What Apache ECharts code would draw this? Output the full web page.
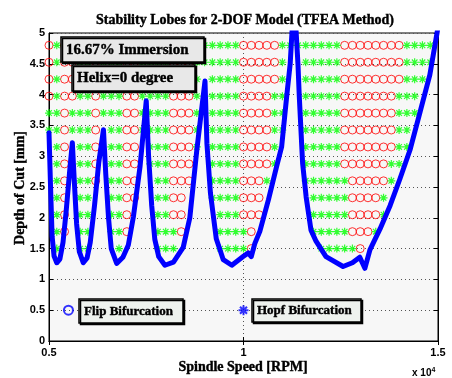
<!DOCTYPE html>
<html><head><meta charset="utf-8">
<script src="https://cdn.jsdelivr.net/npm/echarts@6/dist/echarts.min.js"></script>
<style>html,body{margin:0;padding:0;background:#fff}#c{width:452px;height:378px}</style>
</head><body><div id="c"></div>
<script>
// Grid of simulated cutting conditions (spindle speed columns, depth rows)
const spindleSpeeds = [5000,5200,5400,5600,5800,6000,6200,6400,6600,6800,7000,7200,7400,7600,7800,8000,8200,8400,8600,8800,9000,9200,9400,9600,9800,10000,10200,10400,10600,10800,11000,11200,11400,11600,11800,12000,12200,12400,12600,12800,13000,13200,13400,13600,13800,14000,14200,14400,14600,14800,15000];
const depthRows = [4.8, 4.525, 4.25, 3.975, 3.7, 3.425, 3.15, 2.875, 2.6, 2.325, 2.05, 1.775, 1.5];
// o = flip bifurcation, * = Hopf bifurcation, . = stable (no mark)
const bifurcationRows = [
  "o*oo**o***oo****ooo******ooooo********oooooooo****.",
  "o*oo**o***oo****ooo******ooooo*..*****oooooooo****.",
  "o*oo**o***oo****ooo*.****ooooo*..*****oooooooo***..",
  "o*oo**o***oo****ooo*.****oooo**..*****ooooooo***...",
  "**o***o***oo****ooo*.****oooo**..*****ooooooo***...",
  "**o***o.**oo****ooo*.****oooo**..*****ooooooo**....",
  ".*o.**o.**oo.***ooo*.****oooo*...*****ooooooo**....",
  ".*o.**o.**oo.***ooo..****oooo*...*****oooooo**.....",
  ".*o.**o.**oo..**ooo..****ooo*....******ooooo*......",
  ".*o.**..**oo..**oo...****ooo......*****oooo*.......",
  ".*o.**..**o...**oo....***ooo......*****oooo*.......",
  ".*o.**..**o...***o....****o.......*****ooo*........",
  ".*..**...*....***.....****o........*****o.........."
];
// Stability boundary (blue lobes)
const lobeSpeed = [5000,5040,5080,5130,5200,5280,5360,5440,5530,5600,
  5650,5710,5780,5880,5980,6060,6170,6280,6400,
  6460,6530,6600,6740,6900,7040,7170,7340,7500,
  7560,7640,7720,7820,7980,8200,8450,8620,8800,9010,
  9060,9150,9300,9480,9700,9990,10120,10200,10290,10420,10640,10850,10980,11110,11200,11300,
  11400,11434,11520,11610,11735,11865,12120,12560,12800,12990,13120,13250,13510,13770,14020,14280,14540,14790,14975,15000];
const lobeDepth = [3.38,2.5,1.7,1.38,1.27,1.33,1.6,2.1,2.75,3.22,
  2.6,1.9,1.45,1.27,1.35,1.6,2.2,2.9,3.43,
  2.7,2.0,1.5,1.26,1.36,1.56,2.02,2.83,3.9,
  3.0,2.2,1.65,1.37,1.23,1.28,1.52,2.0,3.1,4.22,
  3.2,2.4,1.66,1.32,1.23,1.37,1.43,1.37,1.58,1.78,2.29,2.83,3.15,3.97,4.5,5.6,
  4.5,3.97,2.88,2.34,1.8,1.62,1.37,1.21,1.27,1.36,1.18,1.48,1.82,2.2,2.63,3.1,3.72,4.32,5.0,5.1];
const legendFlipPoint = [5500, 0.5];
const legendHopfPoint = [10000, 0.5];
const titleText = "Stability Lobes for 2-DOF Model (TFEA Method)";
const xName = "Spindle Speed [RPM]";
const yName = "Depth of Cut [mm]";
const noteTexts = ["16.67% Immersion", "Helix=0 degree"];
const legendTexts = ["Flip Bifurcation", "Hopf Bifurcation"];

const flipData = [], hopfData = [];
bifurcationRows.forEach((row, r) => {
  for (let k = 0; k < row.length; k++) {
    if (row[k] === 'o') flipData.push([spindleSpeeds[k], depthRows[r]]);
    else if (row[k] === '*') hopfData.push([spindleSpeeds[k], depthRows[r]]);
  }
});
const lobeData = lobeSpeed.map((s, i) => [s, lobeDepth[i]]);

const ASTER = 'path://M0 10L20 10M10 0L10 20M3 3L17 17M17 3L3 17';
const serif = 'Liberation Serif';
const sans = 'Liberation Sans';

const chart = echarts.init(document.getElementById('c'), null, {renderer: 'canvas'});
const tickStyle = {inside: true, length: 4, lineStyle: {color: '#000', width: 1}};
const dotted = {show: true, lineStyle: {color: '#555', width: 1, type: [1, 3]}};
function txt(x, y, text, size, align, extra) {
  return Object.assign({type: 'text', x: x, y: y, z: 101,
    style: {text: text, fontFamily: serif, fontWeight: 'bold', fontSize: size, fill: '#000',
      stroke: '#000', lineWidth: 0.4, align: align, verticalAlign: 'middle'}}, extra || {});
}
function box(x, y, w, h, text, fs, fill) {
  return {
    type: 'group', children: [
      {type: 'rect', z: 100, shape: {x: x, y: y, width: w, height: h},
       style: {fill: fill, stroke: '#000', lineWidth: 1.5, shadowColor: '#000', shadowOffsetX: 1.5, shadowOffsetY: 1.5, shadowBlur: 0}},
      txt(x + 5, y + h / 2 + 0.5, text, fs, 'left')
    ]
  };
}
chart.setOption({
  animation: false,
  backgroundColor: '#fff',
  grid: {left: 49, right: 14, top: 33, bottom: 37, show: true, backgroundColor: '#f7f7f7', borderColor: '#000', borderWidth: 1},
  xAxis: [
    {type: 'value', min: 5000, max: 15000, interval: 5000,
     axisLine: {show: true, lineStyle: {color: '#000'}}, axisTick: tickStyle,
     axisLabel: {formatter: v => String(v / 10000), color: '#000', fontWeight: 'bold', fontFamily: sans, fontSize: 11, margin: 6},
     splitLine: dotted},
    {type: 'value', position: 'top', min: 5000, max: 15000, interval: 5000,
     axisLine: {show: true, lineStyle: {color: '#000'}}, axisTick: tickStyle, axisLabel: {show: false}, splitLine: {show: false}}
  ],
  yAxis: [
    {type: 'value', min: 0, max: 5, interval: 0.5,
     axisLine: {show: true, lineStyle: {color: '#000'}}, axisTick: tickStyle,
     axisLabel: {color: '#000', fontWeight: 'bold', fontFamily: sans, fontSize: 11, margin: 4},
     splitLine: dotted},
    {type: 'value', position: 'right', min: 0, max: 5, interval: 0.5,
     axisLine: {show: true, lineStyle: {color: '#000'}}, axisTick: tickStyle, axisLabel: {show: false}, splitLine: {show: false}}
  ],
  series: [
    {type: 'scatter', data: flipData, symbol: 'circle', symbolSize: 8,
     itemStyle: {color: 'rgba(0,0,0,0)', borderColor: '#ff0000', borderWidth: 1}, z: 2, silent: true},
    {type: 'scatter', data: hopfData, symbol: ASTER, symbolSize: 8,
     itemStyle: {color: 'rgba(0,0,0,0)', borderColor: '#00ff00', borderWidth: 1.2}, z: 2, silent: true},
    {type: 'line', data: lobeData, showSymbol: false, symbol: 'none', clip: true,
     lineStyle: {color: '#0000ff', width: 5, join: 'round', cap: 'round'}, z: 3, silent: true},
    {type: 'scatter', data: [legendFlipPoint], symbol: 'circle', symbolSize: 9,
     itemStyle: {color: 'rgba(0,0,0,0)', borderColor: '#0000ff', borderWidth: 2}, z: 4},
    {type: 'scatter', data: [legendHopfPoint], symbol: ASTER, symbolSize: 10,
     itemStyle: {color: 'rgba(0,0,0,0)', borderColor: '#0000ff', borderWidth: 2}, z: 4}
  ],
  graphic: [
    txt(245, 20, titleText, 14, 'center'),
    txt(243, 367, xName, 14, 'center'),
    txt(20, 188, yName, 14, 'center', {rotation: Math.PI / 2}),
    {type: 'text', x: 412, y: 373, z: 101, style: {text: '{a|x 10}{b|4}', rich: {a: {fontFamily: sans, fontWeight: 'bold', fontSize: 10, fill: '#000'}, b: {fontFamily: sans, fontWeight: 'bold', fontSize: 7, fill: '#000', verticalAlign: 'top', padding: [0, 0, 6, 0]}}, verticalAlign: 'middle'}},
    box(61, 37, 143, 25, noteTexts[0], 15, '#e8e8e8'),
    box(72, 65, 123, 26, noteTexts[1], 15, '#e8e8e8'),
    box(79, 299, 104, 24, legendTexts[0], 13, '#eef2ee'),
    box(252, 299, 109, 23, legendTexts[1], 13, '#eef2ee')
  ]
});
</script></body></html>
